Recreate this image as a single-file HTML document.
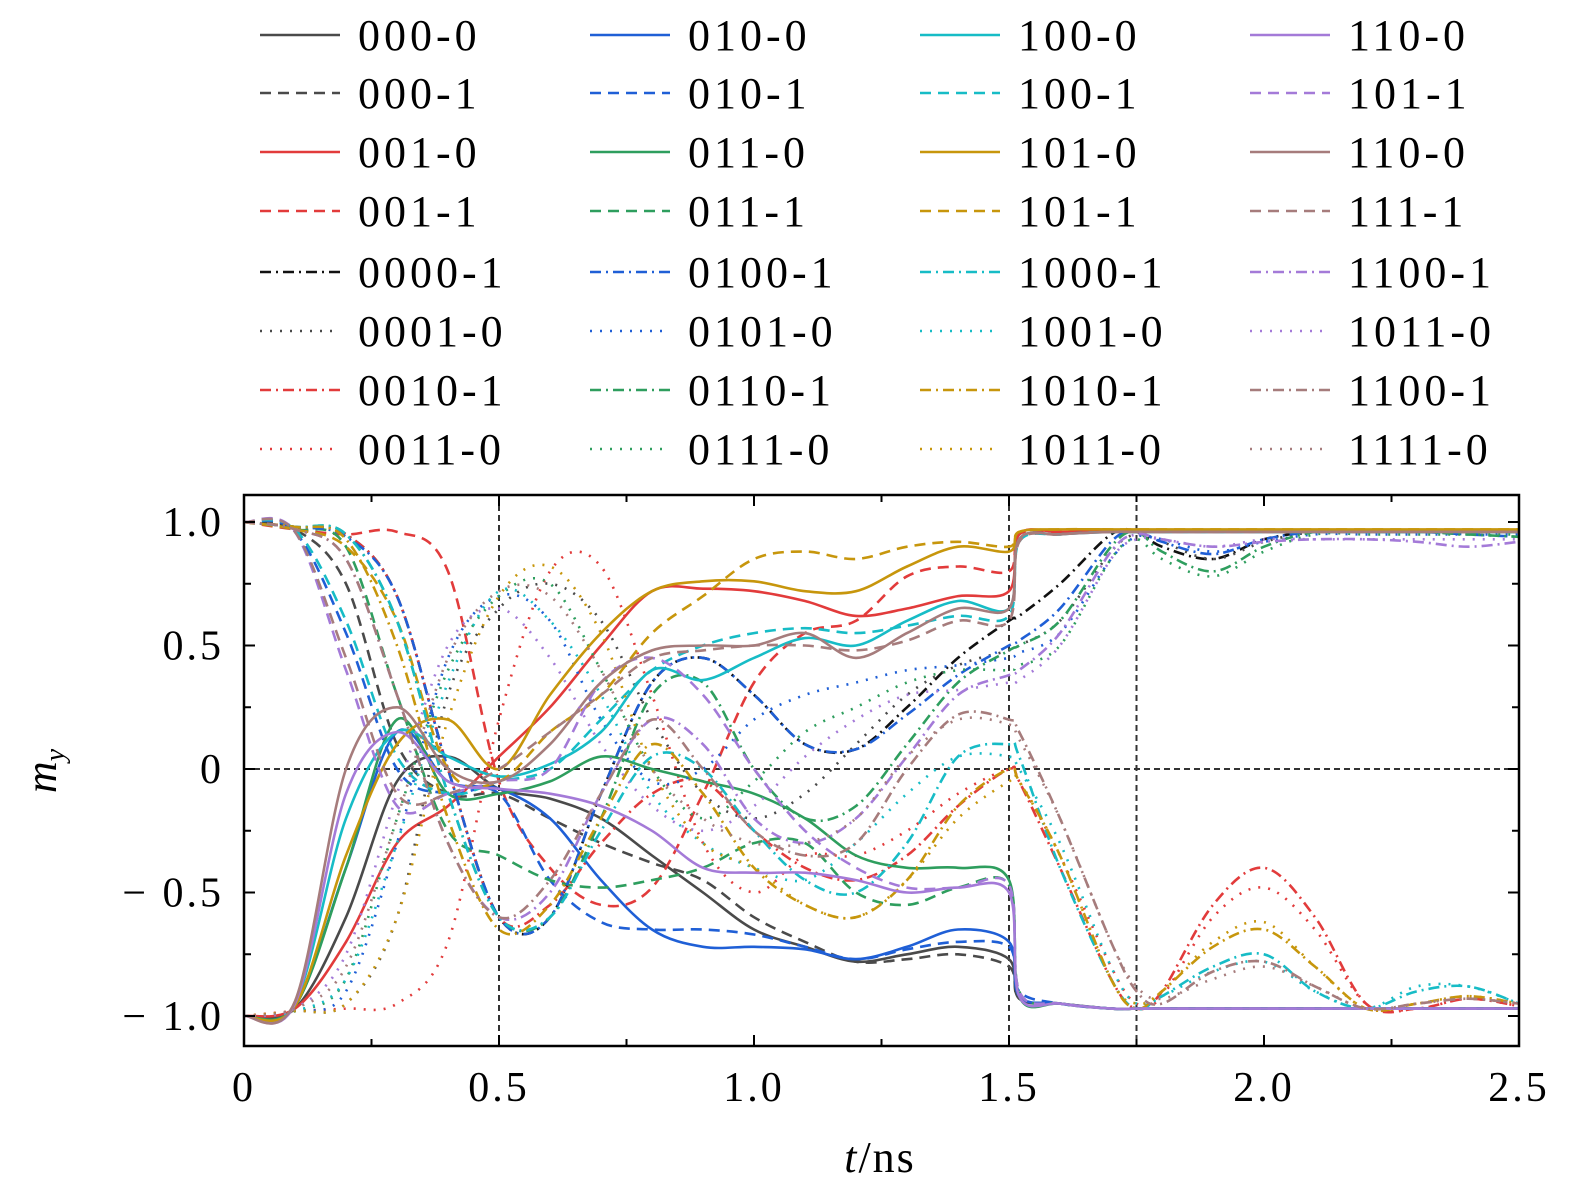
<!DOCTYPE html>
<html><head><meta charset="utf-8"><style>
html,body{margin:0;padding:0;background:#fff;}
svg{display:block;font-family:"Liberation Serif",serif;}
</style></head><body>
<svg id="chart" width="1575" height="1201" viewBox="0 0 1575 1201" xmlns="http://www.w3.org/2000/svg">
<g id="legend"></g>
<g id="plot"></g>
<g id="axes"></g>
</svg>
<script>
const times = [0,0.1,0.2,0.3,0.4,0.5,0.6,0.7,0.8,0.9,1.0,1.1,1.2,1.3,1.4,1.5,1.52,1.6,1.7,1.75,1.8,1.9,2.0,2.1,2.2,2.3,2.4,2.5];
const xTicks = [0,0.5,1.0,1.5,2.0,2.5];
const xTickLabels = ["0","0.5","1.0","1.5","2.0","2.5"];
const yTicks = [1.0,0.5,0,-0.5,-1.0];
const yTickLabels = ["1.0","0.5","0","\u2212 0.5","\u2212 1.0"];
const refLinesX = [0.5,1.5,1.75];
const seriesNames = ["000-0","000-1","001-0","001-1","0000-1","0001-0","0010-1","0011-0",
"010-0","010-1","011-0","011-1","0100-1","0101-0","0110-1","0111-0",
"100-0","100-1","101-0","101-1","1000-1","1001-0","1010-1","1011-0",
"110-0","101-1","110-0","111-1","1100-1","1011-0","1100-1","1111-0"];
const s000_0=[-1,-0.97,-0.6,-0.05,0.05,-0.08,-0.12,-0.2,-0.35,-0.5,-0.65,-0.72,-0.78,-0.75,-0.72,-0.77,-0.93,-0.95,-0.97,-0.97,-0.97,-0.97,-0.97,-0.97,-0.97,-0.97,-0.97,-0.97];
const s000_1=[1,0.97,0.75,0.1,-0.1,-0.1,-0.2,-0.3,-0.38,-0.45,-0.6,-0.7,-0.78,-0.77,-0.75,-0.8,-0.93,-0.95,-0.97,-0.97,-0.97,-0.97,-0.97,-0.97,-0.97,-0.97,-0.97,-0.97];
const s001_0=[-1,-0.97,-0.7,-0.3,-0.15,0.05,0.25,0.5,0.72,0.73,0.72,0.68,0.62,0.65,0.7,0.72,0.95,0.96,0.96,0.96,0.96,0.96,0.96,0.96,0.96,0.96,0.96,0.96];
const s001_1=[1,0.97,0.95,0.96,0.8,-0.05,-0.4,-0.55,-0.48,-0.1,0.35,0.55,0.6,0.78,0.82,0.8,0.95,0.96,0.96,0.96,0.96,0.96,0.96,0.96,0.96,0.96,0.96,0.96];
const s0000_1=[1,0.98,0.95,0.7,0.0,-0.6,-0.6,-0.1,0.35,0.45,0.3,0.1,0.08,0.25,0.45,0.6,0.62,0.75,0.95,0.96,0.9,0.85,0.93,0.96,0.96,0.96,0.96,0.96];
const s0001_0=[-1,-0.98,-0.95,-0.6,0.3,0.65,0.75,0.6,0.2,-0.1,-0.2,-0.1,0.1,0.3,0.42,0.48,0.5,0.6,0.88,0.95,0.92,0.85,0.92,0.96,0.96,0.96,0.96,0.96];
const s0010_1=[1,0.98,0.95,0.7,0.0,-0.6,-0.55,-0.3,-0.1,-0.05,-0.25,-0.4,-0.45,-0.35,-0.15,0.0,-0.05,-0.4,-0.85,-0.97,-0.9,-0.55,-0.4,-0.6,-0.95,-0.97,-0.93,-0.96];
const s0011_0=[-1,-0.98,-0.97,-0.95,-0.7,0.2,0.8,0.82,0.3,-0.3,-0.5,-0.35,-0.35,-0.25,-0.1,0.0,-0.05,-0.35,-0.8,-0.95,-0.92,-0.6,-0.48,-0.65,-0.95,-0.97,-0.93,-0.96];
const s010_0=[-1,-0.96,-0.4,0.15,-0.05,-0.08,-0.2,-0.45,-0.65,-0.72,-0.72,-0.73,-0.77,-0.72,-0.65,-0.7,-0.92,-0.95,-0.97,-0.97,-0.97,-0.97,-0.97,-0.97,-0.97,-0.97,-0.97,-0.97];
const s010_1=[1,0.96,0.55,0.0,-0.1,-0.1,-0.45,-0.62,-0.65,-0.65,-0.67,-0.72,-0.77,-0.73,-0.7,-0.72,-0.9,-0.95,-0.97,-0.97,-0.97,-0.97,-0.97,-0.97,-0.97,-0.97,-0.97,-0.97];
const s011_0=[-1,-0.96,-0.4,0.2,-0.1,-0.1,-0.05,0.05,0.0,-0.05,-0.1,-0.2,-0.35,-0.4,-0.4,-0.45,-0.92,-0.95,-0.97,-0.97,-0.97,-0.97,-0.97,-0.97,-0.97,-0.97,-0.97,-0.97];
const s011_1=[1,0.97,0.9,0.3,-0.25,-0.35,-0.45,-0.48,-0.45,-0.4,-0.3,-0.3,-0.5,-0.55,-0.48,-0.47,-0.9,-0.95,-0.97,-0.97,-0.97,-0.97,-0.97,-0.97,-0.97,-0.97,-0.97,-0.97];
const s0100_1=[1,0.98,0.94,0.7,0.0,-0.6,-0.6,-0.1,0.35,0.45,0.3,0.1,0.08,0.22,0.38,0.5,0.52,0.65,0.92,0.96,0.92,0.87,0.93,0.96,0.96,0.96,0.95,0.94];
const s0101_0=[-1,-0.98,-0.9,-0.3,0.45,0.7,0.6,0.2,-0.05,0.0,0.2,0.3,0.35,0.4,0.42,0.45,0.47,0.55,0.85,0.94,0.93,0.88,0.92,0.95,0.95,0.95,0.95,0.95];
const s0110_1=[1,0.98,0.95,0.6,-0.1,-0.6,-0.6,-0.2,0.3,0.35,0.0,-0.2,-0.15,0.1,0.35,0.48,0.5,0.6,0.9,0.96,0.88,0.8,0.9,0.96,0.96,0.96,0.95,0.94];
const s0111_0=[-1,-0.98,-0.85,-0.2,0.4,0.7,0.75,0.4,0.0,-0.2,-0.05,0.15,0.25,0.35,0.4,0.4,0.42,0.5,0.85,0.93,0.85,0.78,0.88,0.95,0.95,0.95,0.95,0.95];
const s100_0=[-1,-0.95,-0.2,0.15,0.05,-0.03,0.02,0.15,0.4,0.36,0.45,0.53,0.5,0.6,0.68,0.65,0.93,0.95,0.96,0.96,0.96,0.96,0.96,0.96,0.96,0.96,0.96,0.96];
const s100_1=[1,0.97,0.6,0.05,-0.1,-0.05,0.0,0.2,0.4,0.5,0.55,0.57,0.55,0.58,0.62,0.62,0.92,0.95,0.96,0.96,0.96,0.96,0.96,0.96,0.96,0.96,0.96,0.96];
const s101_0=[-1,-0.96,-0.35,0.1,0.2,0.0,0.3,0.55,0.72,0.76,0.76,0.72,0.72,0.82,0.9,0.88,0.96,0.97,0.97,0.97,0.97,0.97,0.97,0.97,0.97,0.97,0.97,0.97];
const s101_1=[1,0.97,0.9,0.6,0.0,-0.05,0.15,0.3,0.55,0.7,0.85,0.88,0.85,0.9,0.92,0.9,0.96,0.97,0.97,0.97,0.97,0.97,0.97,0.97,0.97,0.97,0.97,0.97];
const s1000_1=[1,0.98,0.95,0.6,-0.1,-0.6,-0.6,-0.25,0.05,0.0,-0.25,-0.45,-0.5,-0.3,0.05,0.1,0.05,-0.4,-0.85,-0.97,-0.92,-0.8,-0.75,-0.9,-0.97,-0.9,-0.88,-0.95];
const s1001_0=[-1,-0.98,-0.85,-0.3,0.35,0.72,0.6,0.3,-0.1,-0.3,-0.4,-0.45,-0.3,-0.1,0.05,0.05,0.0,-0.3,-0.8,-0.95,-0.92,-0.82,-0.78,-0.9,-0.97,-0.88,-0.88,-0.95];
const s1010_1=[1,0.98,0.93,0.5,-0.2,-0.65,-0.55,-0.2,0.1,-0.1,-0.4,-0.55,-0.6,-0.45,-0.15,0.0,-0.05,-0.35,-0.85,-0.97,-0.9,-0.72,-0.65,-0.8,-0.97,-0.95,-0.92,-0.95];
const s1011_0a=[-1,-0.98,-0.95,-0.6,0.2,0.7,0.82,0.55,0.0,-0.3,-0.4,-0.55,-0.6,-0.45,-0.2,-0.05,-0.05,-0.35,-0.85,-0.95,-0.9,-0.7,-0.62,-0.8,-0.97,-0.95,-0.92,-0.95];
const s110_0a=[-1,-0.95,-0.1,0.15,-0.05,-0.08,-0.1,-0.15,-0.25,-0.4,-0.42,-0.42,-0.45,-0.5,-0.48,-0.5,-0.92,-0.95,-0.97,-0.97,-0.97,-0.97,-0.97,-0.97,-0.97,-0.97,-0.97,-0.97];
const s101_1b=[1,0.96,0.4,-0.15,-0.1,-0.05,0.0,0.35,0.45,0.3,0.0,-0.25,-0.4,-0.48,-0.48,-0.47,-0.9,-0.95,-0.97,-0.97,-0.97,-0.97,-0.97,-0.97,-0.97,-0.97,-0.97,-0.97];
const s110_0b=[-1,-0.94,0.0,0.25,0.0,-0.05,0.1,0.35,0.48,0.5,0.5,0.55,0.45,0.55,0.65,0.65,0.93,0.95,0.96,0.96,0.96,0.96,0.96,0.96,0.96,0.96,0.96,0.96];
const s111_1=[1,0.96,0.45,-0.1,-0.1,0.0,0.15,0.3,0.45,0.48,0.5,0.5,0.48,0.52,0.6,0.6,0.92,0.95,0.96,0.96,0.96,0.96,0.96,0.96,0.96,0.96,0.96,0.96];
const s1100_1a=[1,0.97,0.85,0.3,-0.3,-0.6,-0.5,-0.1,0.2,0.1,-0.2,-0.3,-0.2,0.05,0.3,0.38,0.4,0.55,0.88,0.95,0.93,0.9,0.92,0.93,0.93,0.92,0.9,0.92];
const s1011_0b=[-1,-0.97,-0.75,-0.1,0.5,0.65,0.45,0.1,-0.15,-0.25,-0.15,0.05,0.2,0.3,0.32,0.35,0.36,0.5,0.85,0.93,0.93,0.9,0.93,0.93,0.93,0.93,0.93,0.93];
const s1100_1b=[1,0.97,0.85,0.3,-0.3,-0.6,-0.45,-0.1,0.2,0.0,-0.25,-0.35,-0.3,0.0,0.22,0.2,0.15,-0.2,-0.7,-0.9,-0.95,-0.82,-0.78,-0.88,-0.97,-0.95,-0.93,-0.95];
const s1111_0=[-1,-0.97,-0.8,-0.2,0.45,0.72,0.7,0.4,0.0,-0.2,-0.3,-0.3,-0.2,0.05,0.2,0.18,0.12,-0.2,-0.7,-0.88,-0.93,-0.85,-0.8,-0.88,-0.97,-0.95,-0.93,-0.95];
const seriesValues=[s000_0,s000_1,s001_0,s001_1,s0000_1,s0001_0,s0010_1,s0011_0,
s010_0,s010_1,s011_0,s011_1,s0100_1,s0101_0,s0110_1,s0111_0,
s100_0,s100_1,s101_0,s101_1,s1000_1,s1001_0,s1010_1,s1011_0a,
s110_0a,s101_1b,s110_0b,s111_1,s1100_1a,s1011_0b,s1100_1b,s1111_0];

const NS="http://www.w3.org/2000/svg";
const colA=["#4a4a4a","#1f5fd6","#17bcc6","#a47ad8"];
const colB=["#e23b3b","#2e9e5e","#c7960c","#a67c7c"];
const dashes=["", "11,7", "", "11,7", "11,5,2,5", "2,8", "11,5,2,5", "2,8"];
function styleOf(i){
  const c=Math.floor(i/8), r=i%8;
  let col=(r===0||r===1||r===4||r===5)?colA[c]:colB[c];
  if(i===4) col="#111";
  return {col:col,dash:dashes[r]};
}
const X0=244,X1=1519,Y1v=522,Ym1v=1016,PT=495,PB=1046;
const xs=t=>X0+(X1-X0)*t/2.5;
const ys=v=>Y1v+(1-v)/2*(Ym1v-Y1v);
function mk(tag,attrs,parent){const e=document.createElementNS(NS,tag);for(const k in attrs)e.setAttribute(k,attrs[k]);parent.appendChild(e);return e;}

const plotG=document.getElementById('plot');
const axesG=document.getElementById('axes');
const legendG=document.getElementById('legend');

const zl=mk('line',{x1:X0,x2:X1,y1:ys(0),y2:ys(0),stroke:"#333","stroke-width":2,"stroke-dasharray":"6,4"},plotG);


refLinesX.forEach(t=>{
  const l=mk('line',{x1:xs(t),x2:xs(t),y1:PT,y2:PB,stroke:"#333","stroke-width":2,"stroke-dasharray":"6,4"},plotG);
  
  
});

function pathFor(vals){
  const p=times.map((t,i)=>[xs(t),ys(vals[i])]);
  let d="M"+p[0][0].toFixed(1)+","+p[0][1].toFixed(1);
  for(let i=0;i<p.length-1;i++){
    const p0=p[Math.max(0,i-1)],p1=p[i],p2=p[i+1],p3=p[Math.min(p.length-1,i+2)];
    let c1x=p1[0]+(p2[0]-p0[0])/6,c1y=p1[1]+(p2[1]-p0[1])/6;
    let c2x=p2[0]-(p3[0]-p1[0])/6,c2y=p2[1]-(p3[1]-p1[1])/6;
    c1x=Math.min(Math.max(c1x,p1[0]),p2[0]);c2x=Math.min(Math.max(c2x,p1[0]),p2[0]);
    d+=` C${c1x.toFixed(1)},${c1y.toFixed(1)} ${c2x.toFixed(1)},${c2y.toFixed(1)} ${p2[0].toFixed(1)},${p2[1].toFixed(1)}`;
  }
  return d;
}
const clip=mk('clipPath',{id:'pc'},document.getElementById('chart'));
mk('rect',{x:X0,y:PT,width:X1-X0,height:PB-PT},clip);
const linesG=mk('g',{"clip-path":"url(#pc)"},plotG);
seriesValues.forEach((vals,i)=>{
  const s=styleOf(i);
  const e=mk('path',{d:pathFor(vals),fill:"none",stroke:s.col,"stroke-width":2.6,"stroke-dasharray":s.dash,"stroke-linejoin":"round"},linesG);
  
  
});

const fr=mk('rect',{x:X0,y:PT,width:X1-X0,height:PB-PT,fill:"none",stroke:"#000","stroke-width":2.5},axesG);


for(let k=0;k<=10;k++){
  const t=k*0.25, L=(k%2===0)?11:7;
  mk('line',{x1:xs(t),x2:xs(t),y1:PB,y2:PB-L,stroke:"#000","stroke-width":2},axesG);
  mk('line',{x1:xs(t),x2:xs(t),y1:PT,y2:PT+L,stroke:"#000","stroke-width":2},axesG);
}
for(let k=0;k<=8;k++){
  const v=-1+k*0.25, L=(k%2===0)?11:7;
  mk('line',{x1:X0,x2:X0+L,y1:ys(v),y2:ys(v),stroke:"#000","stroke-width":2},axesG);
  mk('line',{x1:X1,x2:X1-L,y1:ys(v),y2:ys(v),stroke:"#000","stroke-width":2},axesG);
}
xTicks.forEach((t,i)=>{
  const e=mk('text',{x:xs(t),y:1101,"font-size":42,"text-anchor":"middle","letter-spacing":3},axesG);
  e.textContent=xTickLabels[i];
  
  
});
yTicks.forEach((v,i)=>{
  const e=mk('text',{x:224,y:ys(v)+14,"font-size":42,"text-anchor":"end","letter-spacing":3},axesG);
  e.textContent=yTickLabels[i];
  
  
});
const xt=mk('text',{x:880,y:1172,"font-size":44,"text-anchor":"middle","letter-spacing":2},axesG);
xt.innerHTML='<tspan font-style="italic">t</tspan>/ns';


const yt=mk('text',{x:0,y:0,"font-size":44,"text-anchor":"middle",transform:"translate(56,771) rotate(-90)"},axesG);
yt.innerHTML='<tspan font-style="italic">m</tspan><tspan font-style="italic" font-size="28" dy="8">y</tspan>';



const colX=[260,590,920,1250], rowY=[35,93,152,211,272,331,390,449];
seriesNames.forEach((n,i)=>{
  const c=Math.floor(i/8), r=i%8, s=styleOf(i);
  const g=mk('g',{},legendG);
  
  
  mk('line',{x1:colX[c],x2:colX[c]+80,y1:rowY[r],y2:rowY[r],stroke:s.col,"stroke-width":2.6,"stroke-dasharray":s.dash},g);
  const t=mk('text',{x:colX[c]+98,y:rowY[r]+15,"font-size":44,"letter-spacing":4},g);
  t.textContent=n;
});
</script>
</body></html>
